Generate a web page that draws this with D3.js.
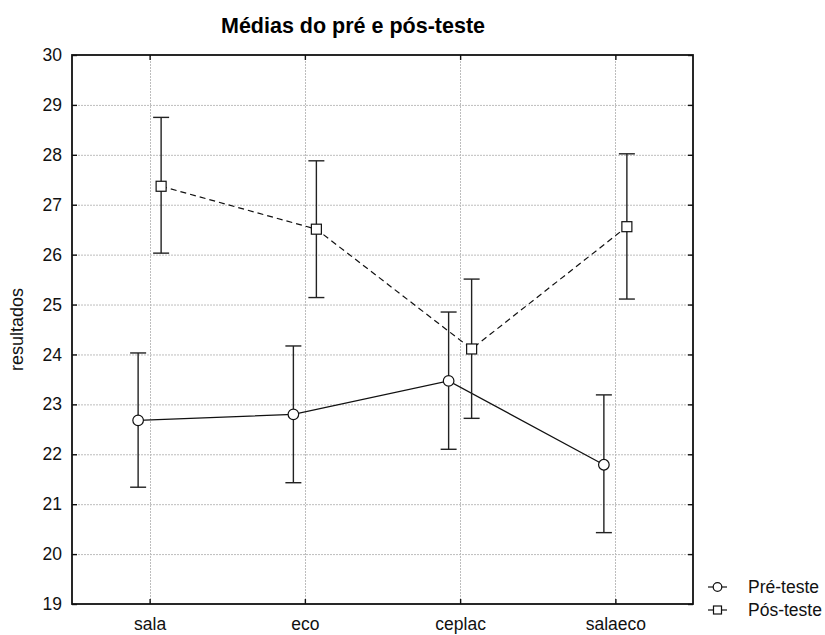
<!DOCTYPE html>
<html>
<head>
<meta charset="utf-8">
<script src="https://cdn.jsdelivr.net/npm/d3@7"></script>
<style>
  html, body { margin: 0; padding: 0; background: #fff; }
  svg { display: block; font-family: "Liberation Sans", Arial, sans-serif; }
</style>
</head>
<body>
<svg id="chart" width="825" height="635"></svg>
<script>
// Group names along the x axis
const categories = ["sala", "eco", "ceplac", "salaeco"];

// Pre-test means and confidence limits
const preMean  = [22.68, 22.80, 23.47, 21.79];
const preLow   = [21.34, 21.43, 22.10, 20.43];
const preHigh  = [24.03, 24.17, 24.85, 23.19];

// Post-test means and confidence limits
const posMean  = [27.37, 26.51, 24.11, 26.56];
const posLow   = [26.03, 25.14, 22.72, 25.11];
const posHigh  = [28.75, 27.88, 25.51, 28.02];

const yTicks = [19, 20, 21, 22, 23, 24, 25, 26, 27, 28, 29, 30];

const series = [
  { name: "Pré-teste", mean: preMean, low: preLow, high: preHigh, shape: "circle", dash: null, shift: -11.5 },
  { name: "Pós-teste", mean: posMean, low: posLow, high: posHigh, shape: "square", dash: "6,4", shift: 11.5 }
];

const svg = d3.select("#chart");
const plot = { left: 72, right: 693, top: 55, bottom: 604 };

const x = d3.scalePoint().domain(categories).range([plot.left, plot.right]).padding(0.5);
const y = d3.scaleLinear().domain([19, 30]).range([plot.bottom, plot.top]);

// Dotted grid
const grid = svg.append("g").attr("stroke", "#bdbdbd").attr("stroke-width", 1).attr("stroke-dasharray", "2,1");
grid.selectAll("line.h").data(yTicks.slice(1, -1)).join("line")
  .attr("x1", plot.left).attr("x2", plot.right)
  .attr("y1", d => y(d) + 0.5).attr("y2", d => y(d) + 0.5);
grid.selectAll("line.v").data(categories).join("line")
  .attr("y1", plot.top).attr("y2", plot.bottom)
  .attr("x1", d => Math.round(x(d)) + 0.5).attr("x2", d => Math.round(x(d)) + 0.5);

// Axes with inward ticks on all four sides
const axisLeft = d3.axisLeft(y).tickValues(yTicks).tickSizeInner(-5).tickSizeOuter(0).tickPadding(10);
const axisRight = d3.axisRight(y).tickValues(yTicks).tickSizeInner(-5).tickSizeOuter(0).tickFormat("");
const axisBottom = d3.axisBottom(x).tickSizeInner(-5).tickSizeOuter(0).tickPadding(14);
const axisTop = d3.axisTop(x).tickSizeInner(-5).tickSizeOuter(0).tickFormat("");

function styleAxis(g) {
  g.attr("font-family", null).attr("font-size", null);
  g.select(".domain").remove();
  g.selectAll("line").attr("stroke", "#111").attr("stroke-width", 1.4);
  g.selectAll("text").attr("fill", "#111").style("font-size", "17.5px");
}
svg.append("g").attr("transform", `translate(${plot.left},0)`).call(axisLeft).call(styleAxis);
svg.append("g").attr("transform", `translate(${plot.right},0)`).call(axisRight).call(styleAxis);
svg.append("g").attr("transform", `translate(0,${plot.bottom})`).call(axisBottom).call(styleAxis);
svg.append("g").attr("transform", `translate(0,${plot.top})`).call(axisTop).call(styleAxis);

// Frame
svg.append("rect")
  .attr("x", plot.left).attr("y", plot.top)
  .attr("width", plot.right - plot.left).attr("height", plot.bottom - plot.top)
  .attr("fill", "none").attr("stroke", "#111").attr("stroke-width", 1.8);

// Series: connecting lines, error bars, markers
series.forEach(s => {
  const pts = categories.map((c, i) => ({ c, i, px: x(c) + s.shift }));
  const g = svg.append("g");

  g.append("path")
    .attr("d", d3.line().x(d => d.px).y(d => y(s.mean[d.i]))(pts))
    .attr("fill", "none").attr("stroke", "#111").attr("stroke-width", 1.2)
    .attr("stroke-dasharray", s.dash);

  const eb = g.selectAll("g.eb").data(pts).join("g").attr("stroke", "#222").attr("stroke-width", 1.4);
  eb.append("line").attr("x1", d => d.px).attr("x2", d => d.px)
    .attr("y1", d => y(s.low[d.i])).attr("y2", d => y(s.high[d.i]));
  eb.append("line").attr("x1", d => d.px - 8).attr("x2", d => d.px + 8)
    .attr("y1", d => y(s.high[d.i])).attr("y2", d => y(s.high[d.i]));
  eb.append("line").attr("x1", d => d.px - 8).attr("x2", d => d.px + 8)
    .attr("y1", d => y(s.low[d.i])).attr("y2", d => y(s.low[d.i]));

  if (s.shape === "circle") {
    g.selectAll("circle").data(pts).join("circle")
      .attr("cx", d => d.px).attr("cy", d => y(s.mean[d.i])).attr("r", 5.3)
      .attr("fill", "#fff").attr("stroke", "#111").attr("stroke-width", 1.2);
  } else {
    g.selectAll("rect").data(pts).join("rect")
      .attr("x", d => d.px - 5).attr("y", d => y(s.mean[d.i]) - 5)
      .attr("width", 10).attr("height", 10)
      .attr("fill", "#fff").attr("stroke", "#111").attr("stroke-width", 1.2);
  }
});

// Title
svg.append("text").attr("x", 353).attr("y", 33).attr("text-anchor", "middle")
  .attr("font-size", 21.5).attr("font-weight", "bold").attr("fill", "#000")
  .text("Médias do pré e pós-teste");

// Y axis title
svg.append("text")
  .attr("transform", `translate(23,${(plot.top + plot.bottom) / 2}) rotate(-90)`)
  .attr("text-anchor", "middle").attr("font-size", 18).attr("fill", "#111")
  .text("resultados");

// Legend
const legend = svg.append("g").attr("transform", "translate(708,0)");
series.forEach((s, i) => {
  const cy = 587 + i * 23;
  const row = legend.append("g");
  if (s.dash) {
    row.append("line").attr("x1", 0).attr("x2", 5).attr("y1", cy).attr("y2", cy).attr("stroke", "#111").attr("stroke-width", 1.2);
    row.append("line").attr("x1", 14).attr("x2", 19).attr("y1", cy).attr("y2", cy).attr("stroke", "#111").attr("stroke-width", 1.2);
  } else {
    row.append("line").attr("x1", 0).attr("x2", 19).attr("y1", cy).attr("y2", cy).attr("stroke", "#111").attr("stroke-width", 1.2);
  }
  if (s.shape === "circle") {
    row.append("circle").attr("cx", 9.5).attr("cy", cy).attr("r", 4.3)
      .attr("fill", "#fff").attr("stroke", "#111").attr("stroke-width", 1.2);
  } else {
    row.append("rect").attr("x", 5.5).attr("y", cy - 4).attr("width", 8).attr("height", 8)
      .attr("fill", "#fff").attr("stroke", "#111").attr("stroke-width", 1.2);
  }
  row.append("text").attr("x", 40).attr("y", cy + 6).attr("font-size", 17.5).attr("fill", "#111").text(s.name);
});
</script>
</body>
</html>
